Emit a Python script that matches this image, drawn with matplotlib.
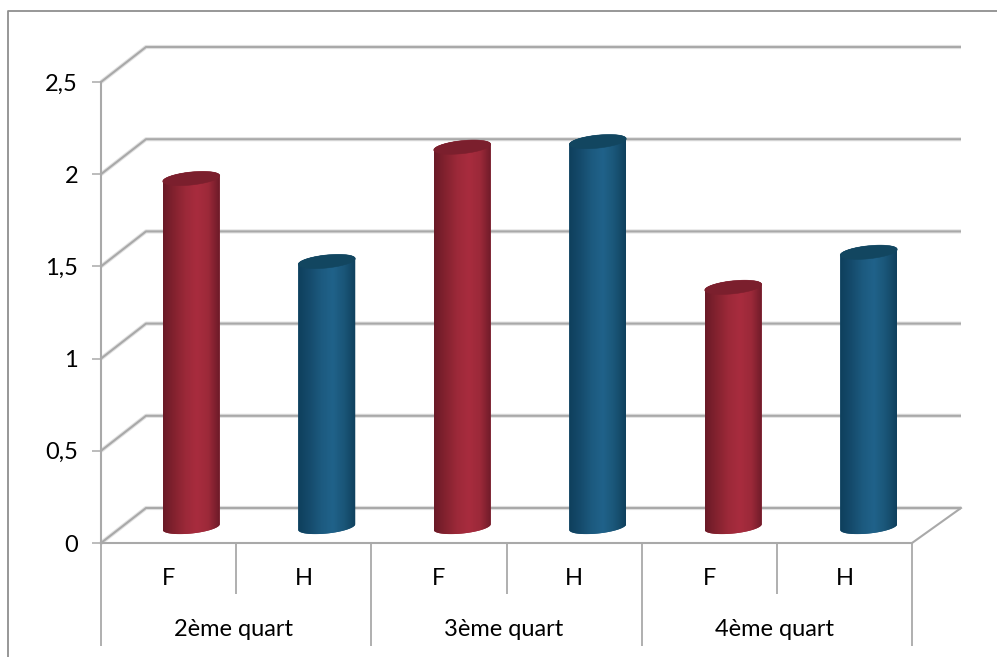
import numpy as np
import matplotlib
matplotlib.use("Agg")
import matplotlib.pyplot as plt
from matplotlib.colors import LinearSegmentedColormap
from matplotlib.lines import Line2D
from matplotlib.patches import Polygon
from matplotlib.ticker import FuncFormatter

groups = ["2ème quart", "3ème quart", "4ème quart"]
subcats = ["F", "H", "F", "H", "F", "H"]
values = [1.89, 1.44, 2.06, 2.09, 1.30, 1.49]
y_ticks = [0, 0.5, 1, 1.5, 2, 2.5]
palettes = {
    "F": dict(cmap=["#6a1a27", "#84222f", "#9c2939", "#a82c3e", "#9c2939", "#6c1a28"], top="#7b1f2d"),
    "H": dict(cmap=["#0e3f5c", "#154b6c", "#1c5a7f", "#20628a", "#1a5678", "#0f405d"], top="#124660"),
}

plt.rcParams["font.family"] = ["Lato", "DejaVu Sans"]
W, H = 997, 657
fig = plt.figure(figsize=(W / 100, H / 100), dpi=100, facecolor="white")
L, R, B, T = 101, 912, 543, 82
ax = fig.add_axes([L / W, (H - B) / H, (R - L) / W, (B - T) / H])
PX = (R - L) / 6        # pixels per category
PY = (B - T) / 2.5      # pixels per unit
DXL, DXR, DY = 45 / PX, 49 / PX, 35 / PY
GREY = "#a9a9a9"

# outer frame
fig.add_artist(Line2D([7.5 / W, 7.5 / W, 1], [0, 1 - 10.5 / H, 1 - 10.5 / H],
                      color="#8f8f8f", lw=1.3, transform=fig.transFigure))

# walls: gridlines, side diagonals, floor
for v in y_ticks:
    ax.plot([0, DXL, 6 + DXR], [v, v + DY, v + DY], color="#e2e2e2", lw=3.0, clip_on=False,
            solid_capstyle="butt", solid_joinstyle="round", zorder=1)
    ax.plot([0, DXL, 6 + DXR], [v, v + DY, v + DY], color=GREY, lw=1.5, clip_on=False,
            solid_capstyle="butt", solid_joinstyle="round", zorder=1.1)
ax.plot([6, 6 + DXR], [0, DY], color=GREY, lw=1.5, clip_on=False, zorder=1.1)

# cylinders
a_px, b_px, tilt = 28.5, 6.5, 0.10
t = np.linspace(0, 2 * np.pi, 121)
for i, (cat, v) in enumerate(zip(subcats, values)):
    x = i + 0.5
    cx = x + (DXL + (DXR - DXL) * x / 6) / 2
    base = DY / 2 - 1.5 / PY
    pal = palettes[cat]
    width = 2 * a_px / PX
    ex = a_px * np.cos(t) / PX
    ey = (b_px * np.sin(t) + tilt * a_px * np.cos(t)) / PY
    sil = np.vstack([
        np.c_[cx + ex[60:121], base + ey[60:121]],
        np.c_[cx + ex[:61], base + v + ey[:61]],
    ])
    clip = Polygon(sil, closed=True, transform=ax.transData, fc="none", ec="none")
    ax.add_patch(clip)
    bars = ax.bar(cx, v + 2 * b_px / PY, width=width, bottom=base - b_px / PY,
                  color=pal["cmap"][2], zorder=2)
    bars[0].set_clip_path(clip)
    cm = LinearSegmentedColormap.from_list("c", pal["cmap"])
    im = ax.imshow(np.linspace(0, 1, 128)[None, :], cmap=cm, aspect="auto",
                   extent=[cx - width / 2, cx + width / 2, 0, 2.5], zorder=2.5)
    im.set_clip_path(clip)
    ax.add_patch(Polygon(np.c_[cx + ex, base + v + ey], closed=True,
                         fc=pal["top"], ec=pal["top"], lw=0.4, zorder=3))

ax.set_xlim(0, 6)
ax.set_ylim(0, 2.5)
ax.patch.set_alpha(0)
for s in ("top", "right"):
    ax.spines[s].set_visible(False)
for s in ("left", "bottom"):
    ax.spines[s].set_color(GREY)
    ax.spines[s].set_linewidth(1.5)

ax.set_yticks(y_ticks)
ax.yaxis.set_major_formatter(FuncFormatter(lambda v, _: f"{v:g}".replace(".", ",")))
ax.tick_params(axis="y", length=6.5, width=1.1, color=GREY, labelsize=17, pad=10, labelcolor="black")
ax.set_xticks([0, 2, 4, 6])
ax.set_xticks([1, 3, 5], minor=True)
ax.tick_params(axis="x", which="major", length=74.5, width=1.3, color=GREY, labelbottom=False)
ax.tick_params(axis="x", which="minor", length=37, width=1.3, color=GREY, labelbottom=False)

for i, c in enumerate(subcats):
    ax.annotate(c, (i + 0.5, 0), xycoords=("data", "axes fraction"), xytext=(0, -25.5),
                textcoords="offset points", ha="center", va="center", fontsize=17, color="black")
for i, g in enumerate(groups):
    ax.annotate(g, (2 * i + 1, 0), xycoords=("data", "axes fraction"), xytext=(-2, -62.5),
                textcoords="offset points", ha="center", va="center", fontsize=17, color="black")

fig.savefig("out.png", dpi=100, facecolor="white")
